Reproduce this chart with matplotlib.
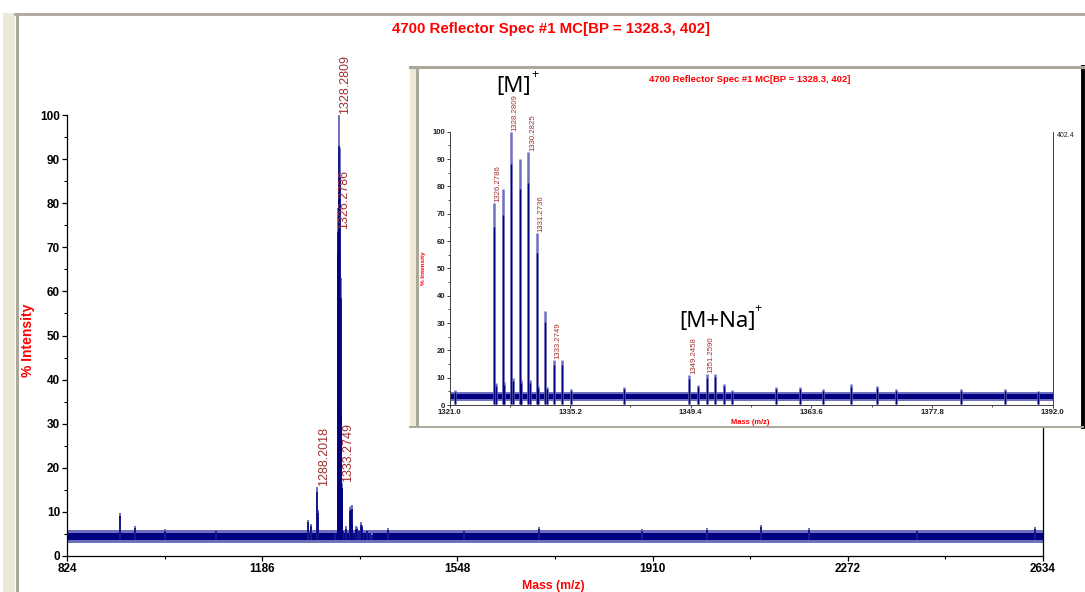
import matplotlib
matplotlib.use('Agg')
import matplotlib.pyplot as plt
from matplotlib.patches import Rectangle
from matplotlib.lines import Line2D
from matplotlib.ticker import MultipleLocator, FixedLocator

W, H = 1085, 592
plt.rcParams['font.family'] = ['Liberation Sans', 'DejaVu Sans']

# ---------------- data ----------------
title_text = "4700 Reflector Spec #1 MC[BP = 1328.3, 402]"
xlabel_text = "Mass (m/z)"
ylabel_text = "% Intensity"
main_xticks = [824, 1186, 1548, 1910, 2272, 2634]
inset_xticks = [1321.0, 1335.2, 1349.4, 1363.6, 1377.8, 1392.0]
yticks = [0, 10, 20, 30, 40, 50, 60, 70, 80, 90, 100]
base_peak_counts = "402.4"

# centroid peaks (m/z, % intensity)
peak_mz = [922.3, 951.0, 1005.0, 1100.0, 1271.0, 1276.0, 1288.2018, 1289.2,
           1321.66, 1326.2786, 1326.45, 1327.28, 1327.45, 1328.2809, 1328.45,
           1329.28, 1329.45, 1330.2825, 1330.45, 1331.2736, 1331.45, 1332.27,
           1332.45, 1333.2749, 1334.27, 1335.3, 1341.5, 1349.2458, 1350.2,
           1351.2590, 1352.27, 1353.3, 1354.2, 1359.4, 1362.2, 1365.0, 1368.3,
           1371.3, 1373.6, 1381.2, 1386.4, 1390.3, 1420.0, 1560.0, 1700.0,
           1890.0, 2010.0, 2111.0, 2200.0, 2400.0, 2620.0]
peak_int = [9.8, 6.8, 6.2, 6.0, 8.2, 7.2, 15.7, 10.4,
            5.5, 74.0, 8.0, 79.0, 8.5, 100.0, 10.0,
            90.0, 9.0, 92.5, 9.0, 63.0, 7.0, 34.5,
            6.5, 16.5, 16.5, 6.0, 6.7, 11.0, 7.5,
            11.3, 11.5, 7.7, 5.5, 6.7, 6.5, 6.0, 7.6,
            7.0, 5.7, 6.0, 5.7, 5.2, 6.3, 6.0, 6.5,
            6.2, 6.4, 7.0, 6.3, 6.0, 6.5]

main_labels = ["1288.2018", "1326.2786", "1328.2809", "1333.2749"]
main_label_int = [15.7, 74.0, 100.0, 16.5]
inset_labels = ["1326.2786", "1328.2809", "1330.2825", "1331.2736",
                "1333.2749", "1349.2458", "1351.2590"]
inset_label_int = [74.0, 100.0, 92.5, 63.0, 16.5, 11.0, 11.3]

# baseline noise envelope (% intensity)
main_noise = (3.7, 5.3)
main_noise_outer = (3.0, 6.0)
inset_noise = (2.3, 3.9)
inset_noise_outer = (1.6, 4.6)

NAVY = '#000080'
LIGHT = '#7070c0'
RED = '#ff0000'
LABEL_RED = '#a03030'


def fx(x):
    return x / W


def fy(y):
    return 1 - y / H


fig = plt.figure(figsize=(W / 100, H / 100), dpi=100)
fig.patch.set_facecolor('white')

# window frame decoration
fig.patches.append(Rectangle((fx(3), 0), fx(15) - fx(3), fy(13), transform=fig.transFigure,
                             facecolor='#ece9d8', edgecolor='none', zorder=0))
fig.lines.append(Line2D([fx(16.5), fx(16.5)], [0, fy(14)], transform=fig.transFigure,
                        color='#aca899', lw=2.2))
fig.lines.append(Line2D([fx(15), 1], [fy(14), fy(14)], transform=fig.transFigure,
                        color='#aca899', lw=2.0))

# ---------------- main axes ----------------
ax = fig.add_axes([fx(67), fy(556), fx(1043) - fx(67), fy(115) - fy(556)])
ax.set_xlim(main_xticks[0], main_xticks[-1])
ax.set_ylim(0, 100)
ax.fill_between([main_xticks[0], main_xticks[-1]], main_noise_outer[0], main_noise_outer[1],
                color=LIGHT, lw=0, zorder=1)
ax.fill_between([main_xticks[0], main_xticks[-1]], main_noise[0], main_noise[1],
                color=NAVY, lw=0, zorder=2)
ax.vlines(peak_mz, main_noise_outer[0], peak_int, color=LIGHT, lw=1.4, zorder=2)
ax.vlines(peak_mz, main_noise[0], [v * 0.93 for v in peak_int], color=NAVY, lw=1.1, zorder=3)

for txt, v in zip(main_labels, main_label_int):
    ax.annotate(txt, xy=(float(txt), v), xytext=(6.5, 1), textcoords='offset pixels',
                rotation=90, ha='center', va='bottom', color=LABEL_RED, fontsize=9,
                annotation_clip=False)

ax.spines['top'].set_visible(False)
for s in ['left', 'bottom', 'right']:
    ax.spines[s].set_linewidth(0.9)
    ax.spines[s].set_color('black')
ax.spines['left'].set_bounds(0, 100)
ax.set_xticks(main_xticks)
ax.set_xticklabels([str(t) for t in main_xticks])
ax.xaxis.set_minor_locator(FixedLocator([(a + b) / 2 for a, b in zip(main_xticks[:-1], main_xticks[1:])]))
ax.set_yticks(yticks)
ax.yaxis.set_minor_locator(MultipleLocator(5))
ax.tick_params(axis='both', which='major', direction='out', length=3.5, width=0.9,
               labelsize=8.5, pad=1.5, colors='black')
ax.tick_params(axis='both', which='minor', direction='out', length=2.2, width=0.8)
ax.tick_params(axis='y', which='both', right=False)
for lab in ax.get_xticklabels() + ax.get_yticklabels():
    lab.set_fontweight('bold')

fig.text(fx(551), fy(29), title_text, color=RED, fontsize=10.8, fontweight='bold',
         ha='center', va='center')
fig.text(fx(553), fy(586), xlabel_text, color=RED, fontsize=8.8, fontweight='bold',
         ha='center', va='center')
fig.text(fx(28), fy(340), ylabel_text, color=RED, fontsize=10, fontweight='bold',
         ha='center', va='center', rotation=90)

# ---------------- inset (screenshot of zoomed spectrum) ----------------
frame = fig.add_axes([fx(410), fy(427), fx(1083) - fx(410), fy(67) - fy(427)])
frame.set_xlim(0, 1)
frame.set_ylim(0, 1)
frame.set_xticks([])
frame.set_yticks([])
frame.set_facecolor('white')
frame.add_patch(Rectangle((0, 0), 6.5 / 673, 1, transform=frame.transAxes,
                          facecolor='#ece9d8', edgecolor='none'))
frame.add_patch(Rectangle((6.5 / 673, 0), 2.5 / 673, 1, transform=frame.transAxes,
                          facecolor='#aca899', edgecolor='none'))
frame.spines['left'].set_visible(False)
frame.spines['top'].set_color('#aca899')
frame.spines['top'].set_linewidth(2.2)
frame.spines['bottom'].set_color('#aca899')
frame.spines['bottom'].set_linewidth(1.4)
frame.spines['right'].set_color('black')
frame.spines['right'].set_linewidth(2.8)

axi = fig.add_axes([fx(449.5), fy(405), fx(1052.7) - fx(449.5), fy(131.7) - fy(405)])
axi.patch.set_alpha(0)
axi.set_xlim(inset_xticks[0], inset_xticks[-1])
axi.set_ylim(0, 100)
axi.fill_between([inset_xticks[0], inset_xticks[-1]], inset_noise_outer[0], inset_noise_outer[1],
                 color=LIGHT, lw=0, zorder=1)
axi.fill_between([inset_xticks[0], inset_xticks[-1]], inset_noise[0], inset_noise[1],
                 color=NAVY, lw=0, zorder=2)
axi.vlines(peak_mz, 0.5, peak_int, color=LIGHT, lw=1.8, zorder=2)
axi.vlines(peak_mz, 0.5, [v * 0.88 for v in peak_int], color=NAVY, lw=1.0, zorder=3)

for txt, v in zip(inset_labels, inset_label_int):
    axi.annotate(txt, xy=(float(txt), v), xytext=(4, 1), textcoords='offset pixels',
                 rotation=90, ha='center', va='bottom', color=LABEL_RED, fontsize=5.6,
                 annotation_clip=False)

axi.spines['top'].set_visible(False)
for s in ['left', 'bottom', 'right']:
    axi.spines[s].set_linewidth(0.7)
    axi.spines[s].set_color('#404040')
axi.set_xticks(inset_xticks)
axi.set_xticklabels(['%.1f' % t for t in inset_xticks])
axi.xaxis.set_minor_locator(FixedLocator([(a + b) / 2 for a, b in zip(inset_xticks[:-1], inset_xticks[1:])]))
axi.set_yticks(yticks)
axi.yaxis.set_minor_locator(MultipleLocator(5))
axi.tick_params(axis='both', which='major', direction='out', length=2.2, width=0.6,
                labelsize=5.6, pad=1, colors='#202020')
axi.tick_params(axis='both', which='minor', direction='out', length=1.4, width=0.5)
for lab in axi.get_xticklabels() + axi.get_yticklabels():
    lab.set_fontweight('bold')
axi.annotate(base_peak_counts, xy=(inset_xticks[-1], 100), xytext=(4, -4), textcoords='offset pixels',
             ha='left', va='center', fontsize=5, color='#202020', annotation_clip=False)

fig.text(fx(750), fy(79), title_text, color=RED, fontsize=6.8, fontweight='bold',
         ha='center', va='center')
fig.text(fx(750), fy(422), xlabel_text, color=RED, fontsize=5.4, fontweight='bold',
         ha='center', va='center')
fig.text(fx(424), fy(268), ylabel_text, color=RED, fontsize=4.6, fontweight='bold',
         ha='center', va='center', rotation=90)

# ion annotations
fig.text(fx(496), fy(92), "[M]", color='black', fontsize=16, family=['Noto Sans', 'DejaVu Sans'],
         ha='left', va='baseline')
fig.text(fx(531), fy(78), "+", color='black', fontsize=9, family=['Noto Sans', 'DejaVu Sans'],
         ha='left', va='baseline')
fig.text(fx(679), fy(327), "[M+Na]", color='black', fontsize=16, family=['Noto Sans', 'DejaVu Sans'],
         ha='left', va='baseline')
fig.text(fx(754), fy(312), "+", color='black', fontsize=9, family=['Noto Sans', 'DejaVu Sans'],
         ha='left', va='baseline')

fig.savefig('out.png', dpi=100)
